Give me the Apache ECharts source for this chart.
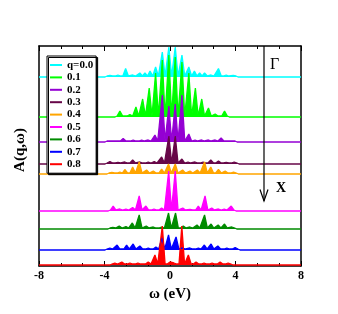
<!DOCTYPE html>
<html><head><meta charset="utf-8">
<script src="https://cdn.jsdelivr.net/npm/echarts@6/dist/echarts.min.js"></script>
<style>html,body{margin:0;padding:0;background:#fff}#c{width:338px;height:314px}</style>
</head><body><div id="c"></div>
<script>
// ---- data (omega in eV, amplitude in arbitrary units) ----
const seriesNames = ['q=0.0','0.1','0.2','0.3','0.4','0.5','0.6','0.7','0.8'];
const seriesColors = ['#00ffff','#00ff00','#9400d3','#670748','#ffa500','#ff00ff','#008b00','#0000ff','#ff0000'];
const offsets = [189,149,124,102,92,55,37,16,1];
const floorLevel = [1,1,1,1,1,1,1,1,1];
const xTicks = [-8,-4,0,4,8];

const omega00 = [-3.67,-3.18,-2.71,-2.27,-1.84,-1.53,-1.22,-0.88,-0.47,-0.07,0.32,0.73,1.15,1.49,1.81,2.11,2.51,2.96,3.43,3.86];
const amp00   = [1.5,2,8.5,2,4,4,6,10,25,30,30,22,10,6,4,4,2,8.5,2,1.5];

const omega01 = [-3.06,-2.45,-2.08,-1.67,-1.27,-0.88,-0.47,-0.07,0.32,0.73,1.15,1.55,1.94,2.35,2.76,3.33];
const amp01   = [6,2.5,10,18,29,44,57,62,60,55,44,29,18,9,3,6];

const omega02 = [-3.67,-2.86,-2.25,-1.73,-1.33,-0.92,-0.47,-0.07,0.32,0.73,1.15,1.53,1.94,2.35,2.76,3.12,3.80];
const amp02   = [1,3.5,2,2,2,7,47,36,38,47,8,2,2,2,2,4,1];

const omega03 = [-3.67,-3.18,-2.76,-2.28,-1.84,-1.33,-0.96,-0.51,-0.07,0.32,0.73,1.10,1.53,2.02,2.49,2.96,3.43,3.92];
const amp03   = [2.5,1.5,2,4,2,2,2.5,7,28,28,5,2,2,2,4,3,1.5,2];

const omega04 = [-3.55,-3.06,-2.76,-2.28,-1.88,-1.43,-1.02,-0.51,-0.09,0.32,0.77,1.22,1.67,2.11,2.49,2.96,3.37,3.88];
const amp04   = [1.5,2,4.5,7,12,4,3,5,10,10,4,3,4,12,7,4.5,3,2];

const omega05 = [-3.47,-3.06,-2.69,-2.28,-1.88,-1.47,-0.98,-0.51,-0.08,0.32,0.78,1.22,1.73,2.14,2.55,2.96,3.31,3.74];
const amp05   = [5,2,2,3.5,15,5,2,3,40,40,3,1.5,5,15,3,2,2,5];

const omega06 = [-3.49,-3.10,-2.69,-2.30,-1.88,-1.45,-1.02,-0.51,-0.09,0.34,0.81,1.22,1.65,2.11,2.51,2.94,3.33,3.78];
const amp06   = [1.5,3,2.5,6,14,3,2,2,16,16,3,2,4,14,5,4,5,2];

const omega07 = [-3.67,-3.23,-2.65,-2.25,-1.84,-1.33,-0.86,-0.49,-0.09,0.37,0.78,1.22,1.73,2.10,2.51,2.92,3.47,3.98];
const amp07   = [2,5,5,6,4,2,3,12,15,13,2,2,2,5,6,4,2,2.5];

const omega08 = [-3.37,-2.94,-2.45,-1.96,-1.33,-0.92,-0.47,0.0,0.24,0.72,1.12,1.59,2.08,2.57,3.06,3.55];
const amp08   = [2,3,2,2,3,10,39,3,2,39,10,3,2,2,3,2];

const omegas = [omega00,omega01,omega02,omega03,omega04,omega05,omega06,omega07,omega08];
const amps = [amp00,amp01,amp02,amp03,amp04,amp05,amp06,amp07,amp08];

// ---- build line shapes: narrow spikes on a flat baseline ----
const HW = 0.17;
function build(om, am, base, fl) {
  const pts = [[-8, base]];
  pts.push([om[0] - 0.3, base]);
  for (let i = 0; i < om.length; i++) {
    const prev = i > 0 ? om[i-1] : om[i] - 1;
    const next = i < om.length - 1 ? om[i+1] : om[i] + 1;
    const l = om[i] - Math.min(HW, (om[i] - prev) / 2);
    const r = om[i] + Math.min(HW, (next - om[i]) / 2);
    pts.push([l, base + fl]);
    pts.push([om[i], base + am[i]]);
    pts.push([r, base + fl]);
  }
  pts.push([om[om.length-1] + 0.3, base]);
  pts.push([8, base]);
  return pts;
}

const series = seriesNames.map((n, i) => ({
  name: n,
  type: 'line',
  xAxisIndex: 0,
  yAxisIndex: 0,
  data: build(omegas[i], amps[i], offsets[i], floorLevel[i]),
  showSymbol: false,
  symbol: 'none',
  lineStyle: { color: seriesColors[i], width: 1.3 },
  itemStyle: { color: seriesColors[i] },
  areaStyle: { color: seriesColors[i], opacity: 1, origin: offsets[i] },
  silent: true,
  z: 2
}));

const font = 'Liberation Serif';
const chart = echarts.init(document.getElementById('c'), null, { renderer: 'canvas' });
chart.setOption({
  animation: false,
  backgroundColor: '#fff',
  grid: { left: 39, right: 37, top: 46, bottom: 48 },
  legend: {
    data: seriesNames,
    orient: 'vertical',
    left: 47, top: 56,
    padding: [3, 3, 3, 3],
    itemGap: 0.4,
    itemWidth: 12, itemHeight: 2,
    icon: 'rect',
    borderColor: '#000', borderWidth: 1,
    backgroundColor: '#fff',
    shadowColor: '#000', shadowOffsetX: 1.5, shadowOffsetY: 1.5, shadowBlur: 0,
    textStyle: { fontFamily: font, fontWeight: 'bold', fontSize: 11, color: '#000', lineHeight: 12 },
    z: 10
  },
  xAxis: [
    { type: 'value', min: xTicks[0], max: xTicks[xTicks.length-1], interval: 4, position: 'bottom',
      axisLine: { onZero: false, lineStyle: { color: '#000', width: 1.5 } },
      axisTick: { inside: true, length: 5, lineStyle: { color: '#000', width: 1 } },
      minorTick: { show: true, splitNumber: 3, length: 3, lineStyle: { color: '#000', width: 1 } },
      splitLine: { show: false },
      axisLabel: { color: '#000', fontFamily: font, fontWeight: 'bold', fontSize: 12, margin: 4 },
      name: 'ω (eV)', nameLocation: 'middle', nameGap: 18,
      nameTextStyle: { color: '#000', fontFamily: font, fontWeight: 'bold', fontSize: 15 } },
    { type: 'value', min: xTicks[0], max: xTicks[xTicks.length-1], interval: 4, position: 'top',
      axisLine: { onZero: false, lineStyle: { color: '#000', width: 1.5 } },
      axisTick: { inside: true, length: 5, lineStyle: { color: '#000', width: 1 } },
      minorTick: { show: true, splitNumber: 3, length: 3, lineStyle: { color: '#000', width: 1 } },
      splitLine: { show: false }, axisLabel: { show: false } }
  ],
  yAxis: [
    { type: 'value', min: 0, max: 220, position: 'left',
      axisLine: { show: true, onZero: false, lineStyle: { color: '#000', width: 1.5 } },
      axisTick: { show: false }, axisLabel: { show: false }, splitLine: { show: false },
      name: 'A(q,ω)', nameLocation: 'middle', nameGap: 11, nameRotate: 90,
      nameTextStyle: { color: '#000', fontFamily: font, fontWeight: 'bold', fontSize: 15, padding: [0, 0, 0, 12] } },
    { type: 'value', min: 0, max: 220, position: 'right',
      axisLine: { show: true, onZero: false, lineStyle: { color: '#000', width: 1.5 } },
      axisTick: { show: false }, axisLabel: { show: false }, splitLine: { show: false } }
  ],
  series: series,
  graphic: [
    { type: 'line', shape: { x1: 264, y1: 46, x2: 264, y2: 201 }, style: { stroke: '#000', lineWidth: 1.2 }, z: 20 },
    { type: 'polyline', shape: { points: [[260, 189.5], [264, 201], [268, 189.5]] }, style: { stroke: '#000', lineWidth: 1.2, fill: null }, z: 20 },
    { type: 'text', left: 270, top: 57, style: { text: 'Γ', font: '16px "Liberation Serif"', fill: '#000' }, z: 20 },
    { type: 'text', left: 276, top: 181, style: { text: 'X', font: 'bold 14px "Liberation Serif"', fill: '#000' }, z: 20 }
  ]
});
</script>
</body></html>
